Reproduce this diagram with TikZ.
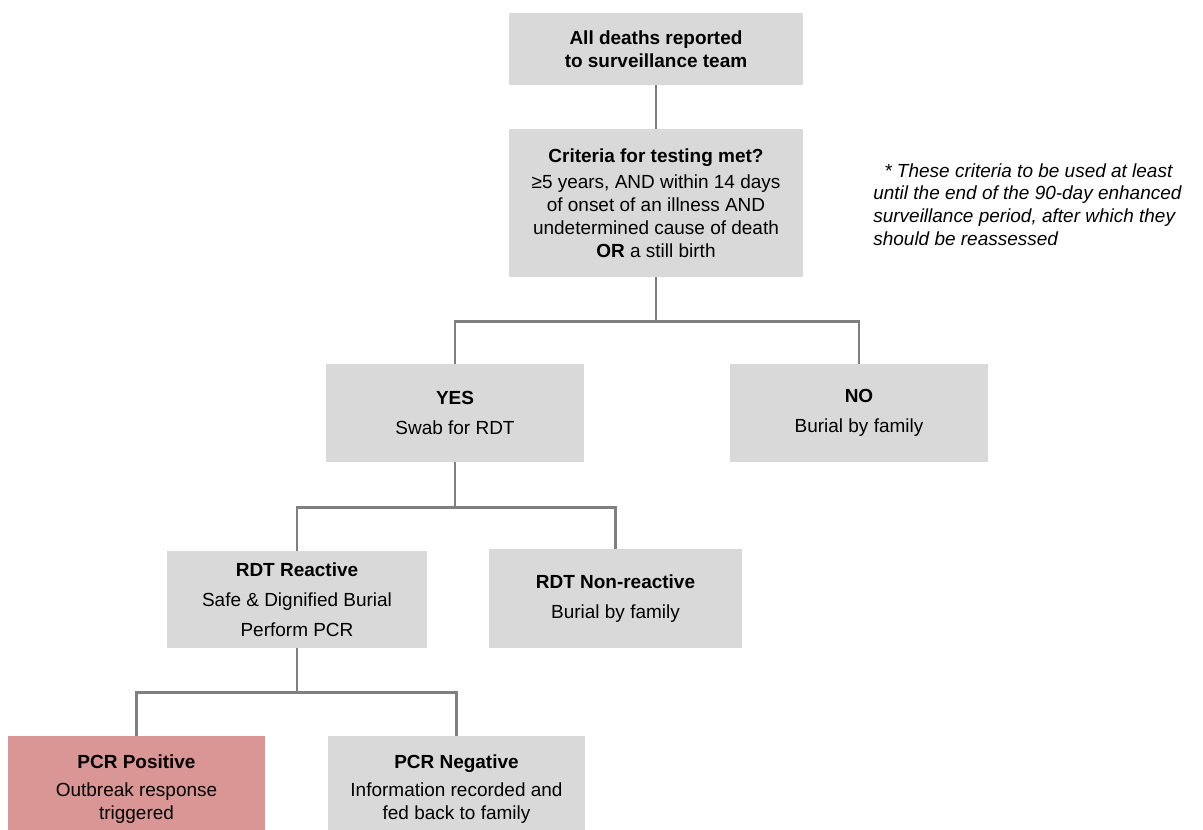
\documentclass[tikz,border=0pt]{standalone}
\usepackage{fontspec}
\setmainfont{Liberation Sans}
\usetikzlibrary{positioning,calc}
\definecolor{boxGray}{RGB}{217,217,217}
\definecolor{alertPink}{RGB}{218,150,148}
\definecolor{lineGray}{RGB}{127,127,127}
\tikzset{
  flow box/.style={fill=boxGray,inner sep=0pt,align=center,font=\fontsize{10.8}{13}\selectfont,minimum width=5.16cm,minimum height=1.96cm},
  flow box red/.style={flow box,fill=alertPink},
  flow line/.style={draw=lineGray,line width=1.5pt},
  side note/.style={align=left,font=\fontsize{10.8}{13}\selectfont\itshape,inner sep=0pt}
}
\begin{document}
\begin{tikzpicture}
        \useasboundingbox (0,0) rectangle (24.06,16.6);
        \node[flow box,minimum width=5.88cm,minimum height=1.44cm] (reported) at (13.12,15.62) {\textbf{All deaths reported}\\\textbf{to surveillance team}};
        \node[flow box,minimum width=5.88cm,minimum height=2.96cm] (criteria) at (13.12,12.54) {\textbf{Criteria for testing met?}\\[2pt]≥5 years, AND within 14 days\\of onset of an illness AND\\undetermined cause of death\\\textbf{OR} a still birth};
        \node[side note,anchor=north west] (note) at (17.46,13.34) {\hspace*{0.22cm}* These criteria to be used at least\\until the end of the 90-day enhanced\\surveillance period, after which they\\should be reassessed};
        \node[flow box] (yes) at (9.10,8.34) {\textbf{YES}\\[4pt]Swab for RDT};
        \node[flow box] (no) at (17.18,8.34) {\textbf{NO}\\[4pt]Burial by family};
        \node[flow box,minimum width=5.2cm,minimum height=1.94cm] (reactive) at (5.94,4.61) {\textbf{RDT Reactive}\\[4pt]Safe \& Dignified Burial\\[4pt]Perform PCR};
        \node[flow box,minimum width=5.06cm,minimum height=1.98cm] (nonreactive) at (12.31,4.63) {\textbf{RDT Non-reactive}\\[4pt]Burial by family};
        \node[flow box red,minimum width=5.14cm,minimum height=2.12cm] (positive) at (2.73,0.82) {\textbf{PCR Positive}\\[3pt]Outbreak response\\triggered};
        \node[flow box,minimum width=5.14cm,minimum height=2.12cm] (negative) at (9.13,0.82) {\textbf{PCR Negative}\\[3pt]Information recorded and\\fed back to family};
        % branch points
        \coordinate (split top) at ($(criteria.south)+(0,-0.88)$);
        \coordinate (split mid) at ($(yes.south)+(0,-0.9)$);
        \coordinate (split low) at ($(reactive.south)+(0,-0.88)$);
        \draw[flow line] (reported) -- (criteria);
        \draw[flow line] (criteria.south) -- (split top) -| (yes.north);
        \draw[flow line] (split top) -| (no.north);
        \draw[flow line] (yes.south) -- (split mid) -| (reactive.north);
        \draw[flow line] (split mid) -| (nonreactive.north);
        \draw[flow line] (reactive.south) -- (split low) -| (positive.north);
        \draw[flow line] (split low) -| (negative.north);
      \end{tikzpicture}
\end{document}
